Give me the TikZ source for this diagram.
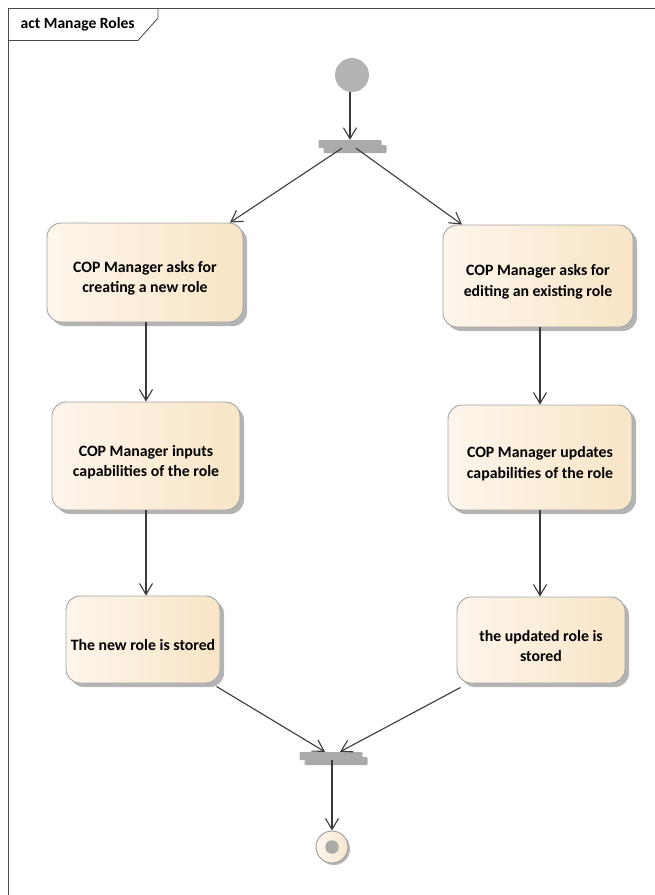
\documentclass[tikz,border=0pt]{standalone}
\usepackage{fontspec}
\setmainfont{Carlito}
\usetikzlibrary{arrows.meta,shadows,calc}
\definecolor{edgec}{HTML}{3A3A3A}
\definecolor{boxborder}{HTML}{A3A3A3}
\definecolor{boxL}{HTML}{FDF5EC}
\definecolor{boxR}{HTML}{F9E5C6}
\definecolor{shadowgray}{HTML}{B4B4B4}
\definecolor{bargray}{HTML}{AAAAAA}
\definecolor{initgray}{HTML}{B3B3B3}
\definecolor{finalL}{HTML}{FDF7EE}
\definecolor{finalR}{HTML}{F7E6CC}
\definecolor{framec}{HTML}{4A4A4A}
\begin{document}
\begin{tikzpicture}[x=1pt,y=-1pt,
  act/.style={draw=boxborder, line width=0.9pt, rounded corners=14pt,
    left color=boxL, right color=boxR,
    drop shadow={shadow xshift=4pt,shadow yshift=-4pt,fill=shadowgray,opacity=1},
    inner sep=0pt},
  acttext/.style={align=center, font=\fontsize{15.8}{20.5}\selectfont\bfseries,
    inner sep=0pt, yshift=-6pt},
  flow/.style={draw=edgec, line width=1.1pt,
    -{Straight Barb[length=11pt,width=13pt,line width=1.1pt]}},
  bar/.style={fill=bargray, draw=none, minimum width=63pt, minimum height=8pt,
    inner sep=0pt, rounded corners=1pt,
    drop shadow={shadow xshift=5pt,shadow yshift=-5pt,fill=bargray,opacity=1}},
  framestyle/.style={draw=framec, line width=0.8pt}]
\useasboundingbox (0,0) rectangle (655,895);
% frame
\draw[framestyle] (8.5,895) -- (8.5,8.5) -- (655,8.5);
\draw[framestyle] (8.5,40.5) -- (138,40.5) -- (158,18) -- (158,8.5);
\node[font=\fontsize{15.6}{18}\selectfont\bfseries, anchor=west, inner sep=0pt] (title) at (20.5,24.5) {act Manage Roles};
% initial
\node[circle, fill=initgray, minimum size=34pt, inner sep=0pt] (init) at (352,75) {};
% fork
\node[bar] (fork) at (350,144) {};
% actions
\node[act, minimum width=196pt, minimum height=99pt] (b1) at (145,272.5) {};
\node[acttext] (b1t) at (b1.center) {COP Manager asks for\\creating a new role};
\node[act, minimum width=190pt, minimum height=102pt] (b2) at (538,276) {};
\node[acttext] (b2t) at (b2.center) {COP Manager asks for\\editing an existing role};
\node[act, minimum width=188pt, minimum height=108pt] (b3) at (146,456) {};
\node[acttext] (b3t) at (b3.center) {COP Manager inputs\\capabilities of the role};
\node[act, minimum width=184pt, minimum height=105pt] (b4) at (540,457.5) {};
\node[acttext] (b4t) at (b4.center) {COP Manager updates\\capabilities of the role};
\node[act, minimum width=154pt, minimum height=87pt] (b5) at (143,639.5) {};
\node[acttext] (b5t) at (b5.center) {The new role is stored};
\node[act, minimum width=168pt, minimum height=86pt] (b6) at (541,640) {};
\node[acttext] (b6t) at (b6.center) {the updated role is\\stored};
% join
\node[bar] (join) at (331,756) {};
% final
\node[circle, draw=boxborder, line width=1pt, left color=finalL, right color=finalR,
  drop shadow={shadow xshift=2pt,shadow yshift=-2pt,fill=shadowgray,opacity=1},
  minimum size=32pt, inner sep=0pt] (final) at (332,847) {};
\node[circle, fill=bargray, minimum size=13.5pt, inner sep=0pt] (finaldot) at (final.center) {};
% flows
\draw[flow] (init.south -| fork.north) -- (fork.north);
\draw[flow] ([xshift=-8pt]fork.south) -- ([xshift=85pt]b1.north);
\draw[flow] ([xshift=6pt]fork.south) -- ([xshift=-76pt]b2.north);
\draw[flow] (b1.south -| b3.north) -- (b3.north);
\draw[flow] (b2.south -| b4.north) -- (b4.north);
\draw[flow] (b3.south) -- (b3.south |- b5.north);
\draw[flow] (b4.south) -- (b4.south |- b6.north);
\draw[flow] ([xshift=-4pt,yshift=-3pt]b5.south east) -- ([xshift=-6pt]join.north);
\draw[flow] ([xshift=4pt,yshift=-4pt]b6.south west) -- ([xshift=9pt]join.north);
\draw[flow] (join.south -| final.north) -- (final.north);
\end{tikzpicture}
\end{document}
